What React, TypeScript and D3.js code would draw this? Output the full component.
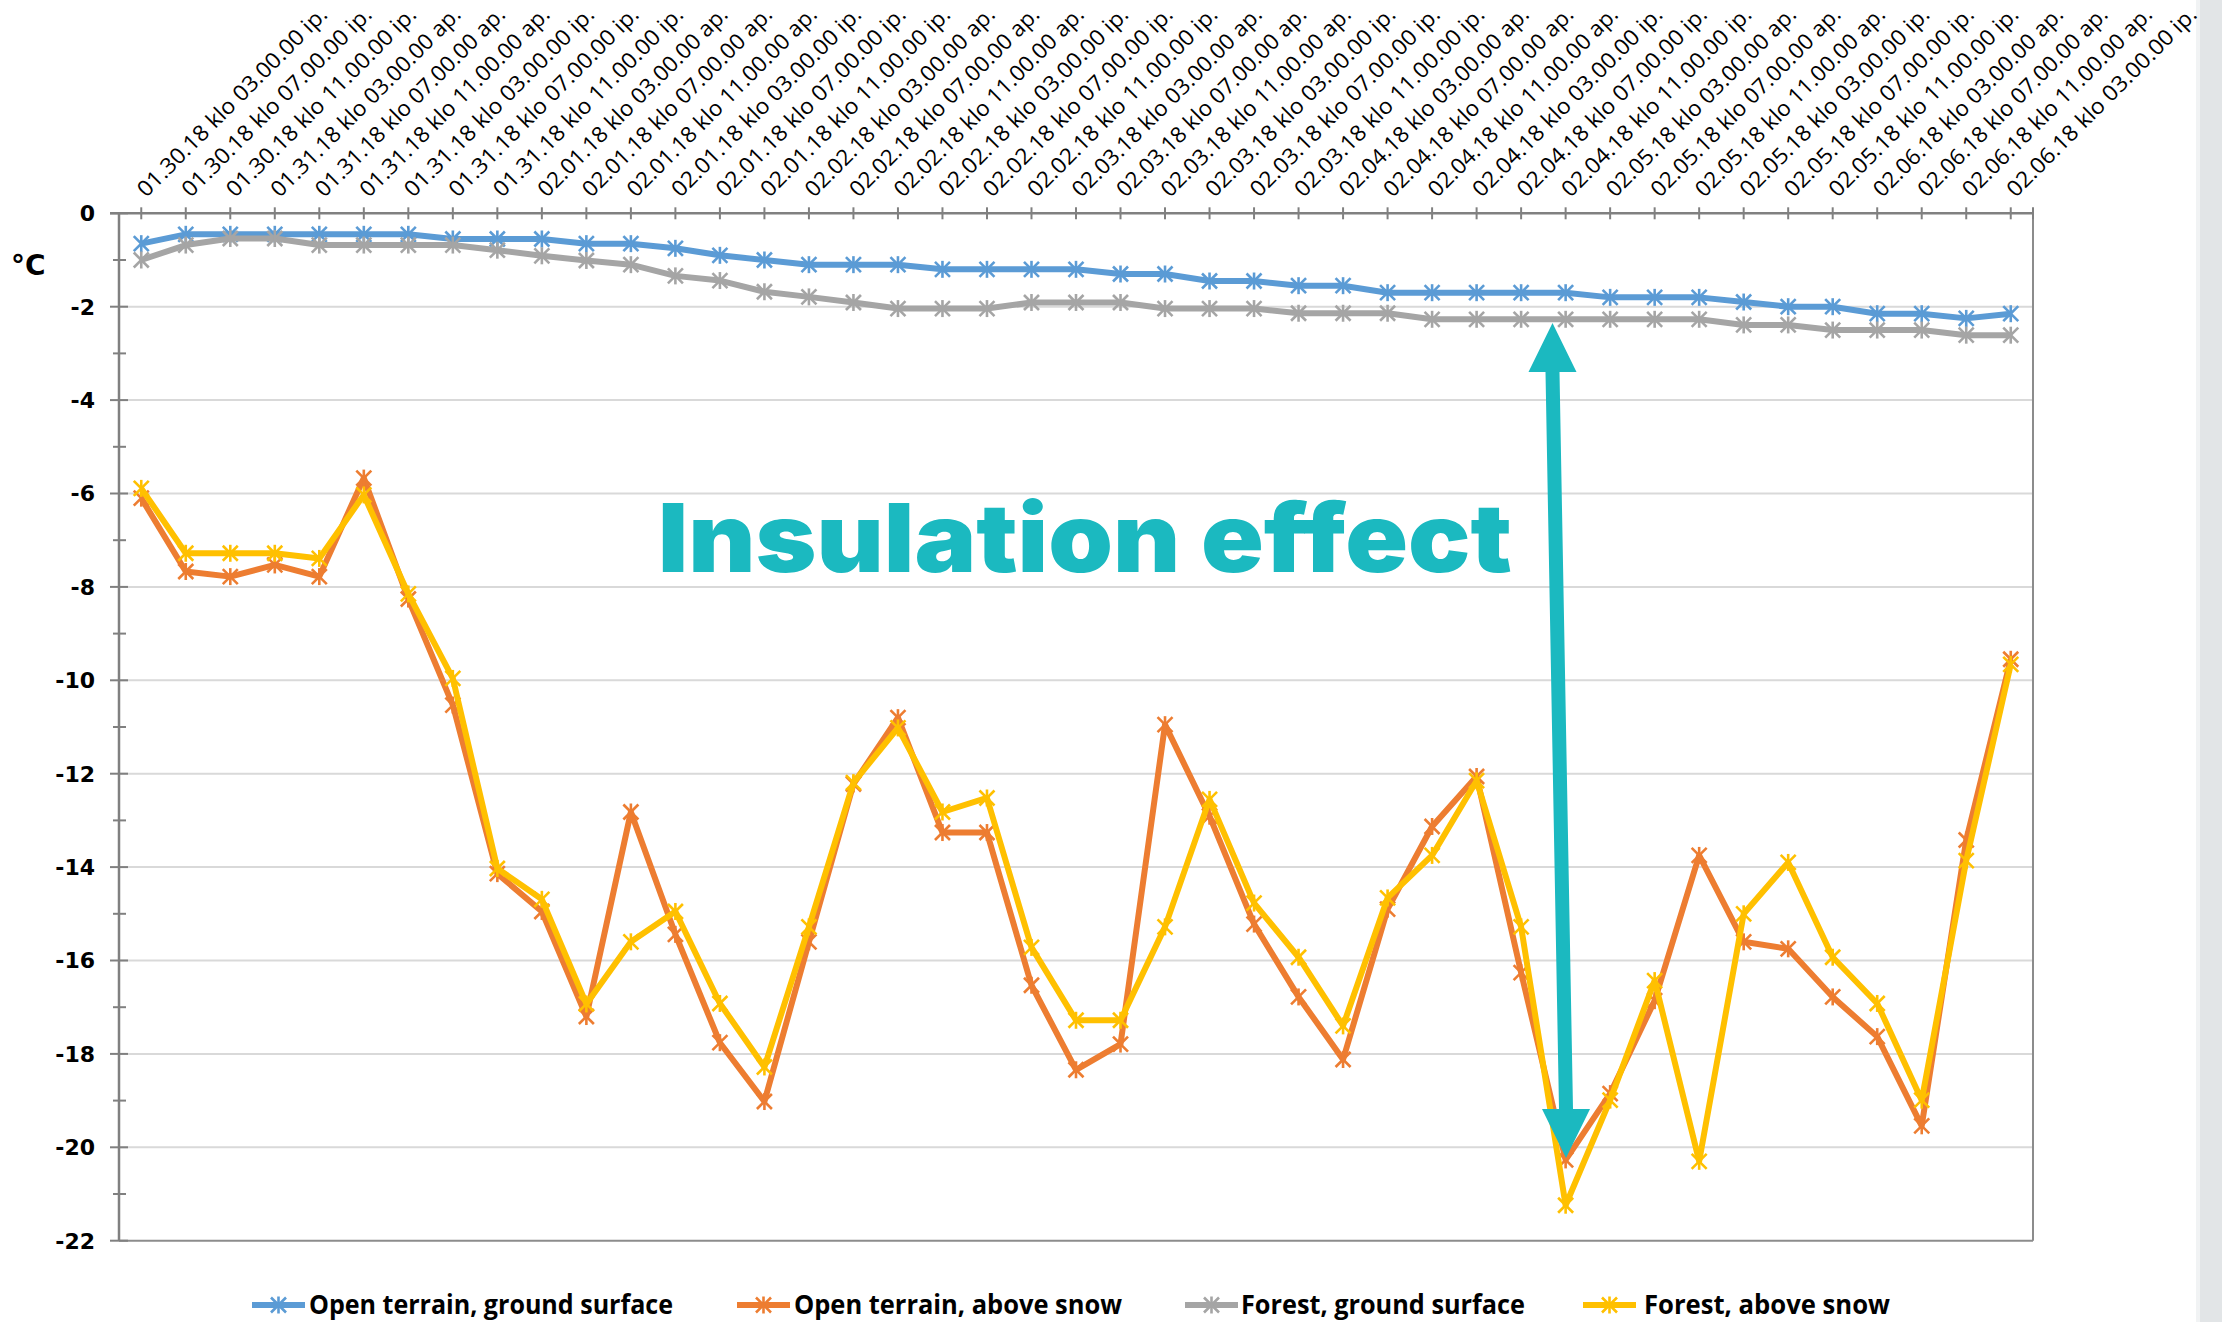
import React from "react";
import * as d3 from "d3";

const labels: string[] = [
  "01.30.18 klo 03.00.00 ip.", "01.30.18 klo 07.00.00 ip.", "01.30.18 klo 11.00.00 ip.",
  "01.31.18 klo 03.00.00 ap.", "01.31.18 klo 07.00.00 ap.", "01.31.18 klo 11.00.00 ap.",
  "01.31.18 klo 03.00.00 ip.", "01.31.18 klo 07.00.00 ip.", "01.31.18 klo 11.00.00 ip.",
  "02.01.18 klo 03.00.00 ap.", "02.01.18 klo 07.00.00 ap.", "02.01.18 klo 11.00.00 ap.",
  "02.01.18 klo 03.00.00 ip.", "02.01.18 klo 07.00.00 ip.", "02.01.18 klo 11.00.00 ip.",
  "02.02.18 klo 03.00.00 ap.", "02.02.18 klo 07.00.00 ap.", "02.02.18 klo 11.00.00 ap.",
  "02.02.18 klo 03.00.00 ip.", "02.02.18 klo 07.00.00 ip.", "02.02.18 klo 11.00.00 ip.",
  "02.03.18 klo 03.00.00 ap.", "02.03.18 klo 07.00.00 ap.", "02.03.18 klo 11.00.00 ap.",
  "02.03.18 klo 03.00.00 ip.", "02.03.18 klo 07.00.00 ip.", "02.03.18 klo 11.00.00 ip.",
  "02.04.18 klo 03.00.00 ap.", "02.04.18 klo 07.00.00 ap.", "02.04.18 klo 11.00.00 ap.",
  "02.04.18 klo 03.00.00 ip.", "02.04.18 klo 07.00.00 ip.", "02.04.18 klo 11.00.00 ip.",
  "02.05.18 klo 03.00.00 ap.", "02.05.18 klo 07.00.00 ap.", "02.05.18 klo 11.00.00 ap.",
  "02.05.18 klo 03.00.00 ip.", "02.05.18 klo 07.00.00 ip.", "02.05.18 klo 11.00.00 ip.",
  "02.06.18 klo 03.00.00 ap.", "02.06.18 klo 07.00.00 ap.", "02.06.18 klo 11.00.00 ap.",
  "02.06.18 klo 03.00.00 ip.",
];

const openGround: number[] = [
  -0.65, -0.45, -0.45, -0.45, -0.45, -0.45, -0.45, -0.55, -0.55, -0.55, -0.65, -0.65, -0.75,
  -0.9, -1.0, -1.1, -1.1, -1.1, -1.2, -1.2, -1.2, -1.2, -1.3, -1.3, -1.45, -1.45, -1.55, -1.55,
  -1.7, -1.7, -1.7, -1.7, -1.7, -1.8, -1.8, -1.8, -1.9, -2.0, -2.0, -2.15, -2.15, -2.25, -2.15,
];

const openAboveSnow: number[] = [
  -6.1, -7.67, -7.78, -7.53, -7.78, -5.67, -8.26, -10.53, -14.14, -14.95, -17.2,
  -12.82, -15.44, -17.76, -19.02, -15.6, -12.22, -10.8, -13.26, -13.26, -16.53, -18.34,
  -17.79, -10.95, -12.91, -15.22, -16.78, -18.12, -14.9, -13.13, -12.06, -16.26,
  -20.27, -18.85, -16.86, -13.75, -15.6, -15.75, -16.78, -17.63, -19.54, -13.42, -9.55,
];

const forestGround: number[] = [
  -1.0, -0.68, -0.54, -0.54, -0.68, -0.68, -0.68, -0.68, -0.79, -0.91, -1.01, -1.1, -1.34,
  -1.44, -1.68, -1.79, -1.91, -2.04, -2.04, -2.04, -1.91, -1.91, -1.91, -2.04, -2.04, -2.04,
  -2.14, -2.14, -2.14, -2.27, -2.27, -2.27, -2.27, -2.27, -2.27, -2.27, -2.39, -2.39, -2.5,
  -2.5, -2.5, -2.61, -2.61,
];

const forestAboveSnow: number[] = [
  -5.89, -7.28, -7.28, -7.28, -7.39, -6.03, -8.15, -9.96, -14.03, -14.69, -16.93,
  -15.6, -14.95, -16.92, -18.28, -15.28, -12.19, -11.02, -12.82, -12.52, -15.72, -17.28,
  -17.28, -15.28, -12.55, -14.77, -15.93, -17.4, -14.66, -13.75, -12.15, -15.28,
  -21.24, -18.99, -16.43, -20.3, -15.0, -13.9, -15.93, -16.92, -18.99, -13.86, -9.66,
];

const seriesNames: string[] = [
  "Open terrain, ground surface",
  "Open terrain, above snow",
  "Forest, ground surface",
  "Forest, above snow",
];
const seriesColors: string[] = ["#5B9BD5", "#ED7D31", "#A5A5A5", "#FFC000"];
const seriesData: number[][] = [openGround, openAboveSnow, forestGround, forestAboveSnow];

const yTicks: number[] = [0, -2, -4, -6, -8, -10, -12, -14, -16, -18, -20, -22];
const yMinorTicks: number[] = [-1, -3, -5, -7, -9, -11, -13, -15, -17, -19, -21];

const W = 2222;
const H = 1322;
const L = 119;
const R = 2033;
const T = 213.3;
const B = 1240.7;
const TEAL = "#1BB9C0";

function Marker({ x, y, color }: { x: number; y: number; color: string }) {
  const s = 7.5;
  return (
    <g stroke={color} strokeWidth={2.6}>
      <line x1={x - s} y1={y - s} x2={x + s} y2={y + s} />
      <line x1={x - s} y1={y + s} x2={x + s} y2={y - s} />
      <line x1={x} y1={y - s - 1} x2={x} y2={y + s + 1} />
    </g>
  );
}

export default function App() {
  const x = d3.scalePoint<string>().domain(labels).range([L, R]).padding(0.5);
  const y = d3.scaleLinear().domain([-22, 0]).range([B, T]);
  const line = d3
    .line<number>()
    .x((_, i) => x(labels[i]) as number)
    .y((d) => y(d));

  const legendItems = [
    { lx: 252, tx: 309, w: 364 },
    { lx: 737, tx: 794, w: 328 },
    { lx: 1185, tx: 1241, w: 284 },
    { lx: 1583, tx: 1644, w: 246 },
  ];
  const legendY = 1305;

  const topTip = { x: 1552.5, y: 323 };
  const botTip = { x: 1566, y: 1158 };
  const headH = 49;
  const headW = 24;
  const shaftW = 7;

  return (
    <svg
      width={W}
      height={H}
      style={{ position: "absolute", left: 0, top: 0, background: "#ffffff" }}
      xmlns="http://www.w3.org/2000/svg"
    >
      <rect x={0} y={0} width={W} height={H} fill="#ffffff" />
      <rect x={2200} y={0} width={22} height={H} fill="#e2e5e7" />
      <rect x={2196} y={0} width={4} height={H} fill="#f1f3f4" />

      {yTicks.filter((t) => t !== 0 && t !== -22).map((t) => (
        <line key={"g" + t} x1={L} x2={R} y1={y(t)} y2={y(t)} stroke="#d9d9d9" strokeWidth={2} />
      ))}

      <line x1={R} x2={R} y1={T} y2={B} stroke="#8c8c8c" strokeWidth={2} />
      <line x1={L} x2={R} y1={B} y2={B} stroke="#8c8c8c" strokeWidth={2} />

      <line x1={L} x2={L} y1={T} y2={B} stroke="#808080" strokeWidth={2.5} />
      {yTicks.map((t) => (
        <line key={"yt" + t} x1={110} x2={128} y1={y(t)} y2={y(t)} stroke="#808080" strokeWidth={2} />
      ))}
      {yMinorTicks.map((t) => (
        <line key={"ym" + t} x1={113} x2={126} y1={y(t)} y2={y(t)} stroke="#808080" strokeWidth={2} />
      ))}
      {yTicks.map((t) => (
        <text
          key={"yl" + t}
          x={95}
          y={y(t)}
          dy="0.36em"
          textAnchor="end"
          fontFamily="DejaVu Sans"
          fontWeight="bold"
          fontSize={22}
          fill="#000"
        >
          {t}
        </text>
      ))}
      <text x={11} y={275} fontFamily="DejaVu Sans" fontWeight="bold" fontSize={28} fill="#000">
        °C
      </text>

      <line x1={110} x2={R} y1={T} y2={T} stroke="#808080" strokeWidth={2.5} />
      {labels.map((lab) => (
        <line
          key={"xt" + lab}
          x1={x(lab) as number}
          x2={x(lab) as number}
          y1={T - 6}
          y2={T + 6}
          stroke="#808080"
          strokeWidth={2}
        />
      ))}
      <line x1={R} x2={R} y1={T - 6} y2={T + 6} stroke="#808080" strokeWidth={2} />
      {labels.map((lab) => {
        const px = (x(lab) as number) + 5;
        const py = T - 15;
        return (
          <text
            key={"xl" + lab}
            x={px}
            y={py}
            transform={`rotate(-45 ${px} ${py})`}
            fontFamily="Open Sans"
            fontSize={22}
            fill="#000"
            textLength={258}
            lengthAdjust="spacingAndGlyphs"
          >
            {lab}
          </text>
        );
      })}

      {seriesData.map((data, si) => (
        <g key={"s" + si}>
          <path d={line(data) || ""} fill="none" stroke={seriesColors[si]} strokeWidth={6} strokeLinejoin="round" />
          {data.map((v, i) => (
            <Marker key={i} x={x(labels[i]) as number} y={y(v)} color={seriesColors[si]} />
          ))}
        </g>
      ))}

      <text
        x={658}
        y={572}
        fontFamily="Inter"
        fontWeight={900}
        fontSize={95}
        fill={TEAL}
        textLength={854}
        lengthAdjust="spacingAndGlyphs"
      >
        Insulation effect
      </text>
      <polygon
        fill={TEAL}
        points={[
          [topTip.x, topTip.y],
          [topTip.x + headW, topTip.y + headH],
          [topTip.x + shaftW, topTip.y + headH],
          [botTip.x + shaftW, botTip.y - headH],
          [botTip.x + headW, botTip.y - headH],
          [botTip.x, botTip.y],
          [botTip.x - headW, botTip.y - headH],
          [botTip.x - shaftW, botTip.y - headH],
          [topTip.x - shaftW, topTip.y + headH],
          [topTip.x - headW, topTip.y + headH],
        ]
          .map((p) => p.join(","))
          .join(" ")}
      />

      {legendItems.map((it, i) => (
        <g key={"lg" + i}>
          <line x1={it.lx} x2={it.lx + 53} y1={legendY} y2={legendY} stroke={seriesColors[i]} strokeWidth={6} />
          <Marker x={it.lx + 26.5} y={legendY} color={seriesColors[i]} />
          <text
            x={it.tx}
            y={legendY}
            dy="0.36em"
            fontFamily="Open Sans"
            fontWeight="bold"
            fontSize={26}
            fill="#000"
            textLength={it.w}
            lengthAdjust="spacingAndGlyphs"
          >
            {seriesNames[i]}
          </text>
        </g>
      ))}
    </svg>
  );
}
